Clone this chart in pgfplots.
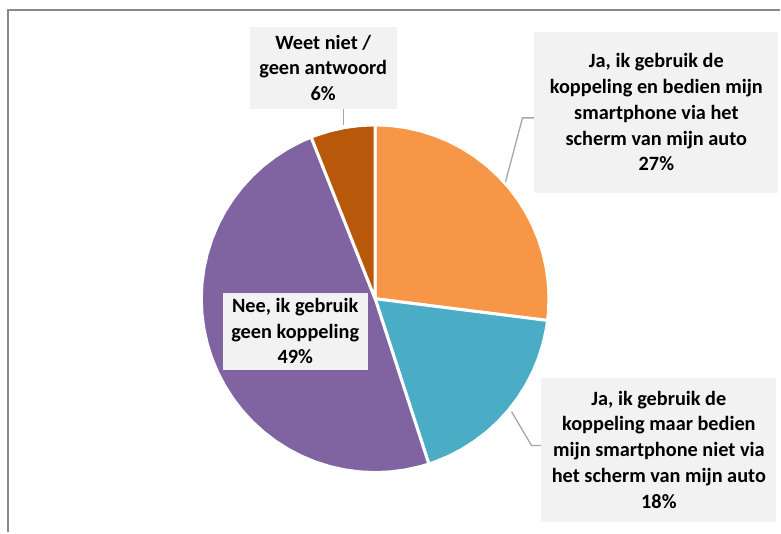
\documentclass[border=0pt]{standalone}
\usepackage{pgfplots}
\pgfplotsset{compat=1.18}
\usepackage{fontspec}
\setmainfont{Carlito}
\definecolor{cOrange}{HTML}{F79646}
\definecolor{cTeal}{HTML}{4BACC6}
\definecolor{cPurple}{HTML}{8064A2}
\definecolor{cBrown}{HTML}{B7580A}
\definecolor{cBox}{HTML}{F2F2F2}
\definecolor{cFrame}{HTML}{898989}
\definecolor{cLead}{HTML}{A6A6A6}
\begin{document}
\begin{tikzpicture}[
  slice/.style={draw=white, line width=3pt, line join=round},
  lbl/.style={fill=cBox, inner sep=0pt, align=center,
    font=\bfseries\fontsize{20.3}{25.8}\selectfont},
]
\begin{axis}[
  hide axis, scale only axis, clip=false,
  width=781pt, height=533pt,
  xmin=-375.5, xmax=405.5, ymin=-234, ymax=299,
]
\path (axis cs:-375.5,-234) rectangle (axis cs:405.5,299);
\draw[cFrame, line width=1.5pt] (axis cs:-367.5,-234) -- (axis cs:-367.5,289) -- (axis cs:405.5,289);

% 27% (start at 12 o'clock, clockwise)
\addplot[slice, fill=cOrange, data cs=polar] coordinates {
 (0,0) (90,174) (85,174) (80,174) (75,174) (70,174) (65,174) (60,174)
 (55,174) (50,174) (45,174) (40,174) (35,174) (30,174) (25,174) (20,174)
 (15,174) (10,174) (5,174) (0,174) (-5,174) (-7.2,174) (0,0) };
% 18%
\addplot[slice, fill=cTeal, data cs=polar] coordinates {
 (0,0) (-7.2,174) (-10,174) (-15,174) (-20,174) (-25,174) (-30,174)
 (-35,174) (-40,174) (-45,174) (-50,174) (-55,174) (-60,174) (-65,174)
 (-70,174) (-72,174) (0,0) };
% 49%
\addplot[slice, fill=cPurple, data cs=polar] coordinates {
 (0,0) (-72,174) (-75,174) (-80,174) (-85,174) (-90,174) (-95,174)
 (-100,174) (-105,174) (-110,174) (-115,174) (-120,174) (-125,174)
 (-130,174) (-135,174) (-140,174) (-145,174) (-150,174) (-155,174)
 (-160,174) (-165,174) (-170,174) (-175,174) (-180,174) (-185,174)
 (-190,174) (-195,174) (-200,174) (-205,174) (-210,174) (-215,174)
 (-220,174) (-225,174) (-230,174) (-235,174) (-240,174) (-245,174)
 (-248.4,174) (0,0) };
% 6%
\addplot[slice, fill=cBrown, data cs=polar] coordinates {
 (0,0) (-248.4,174) (-250,174) (-255,174) (-260,174) (-265,174)
 (-270,174) (0,0) };

% leader lines
\draw[cLead, line width=1.3pt] (axis cs:-31.5,190) -- (axis cs:-31.5,174);
\draw[cLead, line width=1.3pt] (axis cs:159.5,181) -- (axis cs:147.5,181) -- (axis cs:130.5,117);
\draw[cLead, line width=1.3pt] (axis cs:166.5,-147) -- (axis cs:156.5,-147) -- (axis cs:136.5,-113);

% labels
\node[lbl, minimum width=147pt, minimum height=82pt] at (axis cs:-52,231)
  {Weet niet /\\geen antwoord\\6\%};
\node[lbl, minimum width=244pt, minimum height=161pt] at (axis cs:281.5,186.5)
  {Ja, ik gebruik de\\koppeling en bedien mijn\\smartphone via het\\scherm van mijn auto\\27\%};
\node[lbl, minimum width=235pt, minimum height=144pt] at (axis cs:284,-151)
  {Ja, ik gebruik de\\koppeling maar bedien\\mijn smartphone niet via\\het scherm van mijn auto\\18\%};
\node[lbl, minimum width=145pt, minimum height=77pt] at (axis cs:-80,-32.5)
  {Nee, ik gebruik\\geen koppeling\\49\%};
\end{axis}
\end{tikzpicture}
\end{document}
